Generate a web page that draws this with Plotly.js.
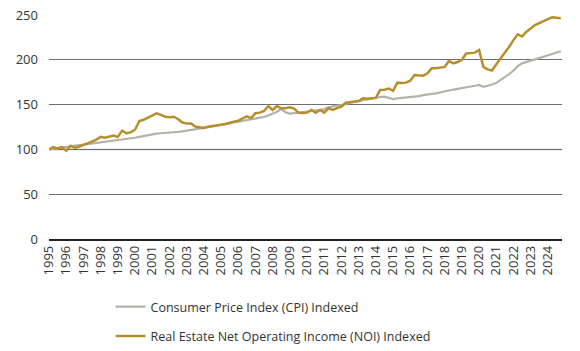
<!DOCTYPE html>
<html>
<head>
<meta charset="utf-8">
<script src="https://cdn.plot.ly/plotly-3.0.1.min.js"></script>
<style>html,body{margin:0;padding:0;background:#fff;}#chart{width:580px;height:351px;}</style>
</head>
<body>
<div id="chart"></div>
<script>
// Quarterly observations, 1995 Q1 .. 2024 Q4
const startYear = 1995;
const endYear = 2024;
const tickYears = [];
for (let y = startYear; y <= endYear; y++) tickYears.push(y);

const cpiIndexed = [
  100, 100.8, 101.5, 102.2,
  102.8, 103.6, 104.2, 104.9,
  105.3, 105.9, 106.4, 107,
  107.5, 108, 108.6, 109.2,
  109.8, 110.5, 111.4, 112.3,
  113, 114, 115, 116,
  116.8, 117.6, 118, 118.2,
  118.4, 118.8, 119.5, 120.2,
  121, 121.5, 122, 122.6,
  123.4, 124.3, 125.2, 126,
  126.8, 127.6, 128.8, 130,
  130.8, 131.8, 132.5, 133.2,
  134, 135.3, 136.3, 137.8,
  139.5, 142, 145, 141.5,
  140, 140.5, 141.5, 142,
  142.5, 143, 143.5, 144,
  145, 147, 148, 148.5,
  149.5, 151, 152, 152.8,
  153.5, 154.5, 155.5, 156.5,
  157.5, 158.5, 158.8, 157.5,
  156.2, 157, 157.5, 157.5,
  157.8, 158.8, 159.5, 160.5,
  161.5, 162, 162.6, 163.8,
  164.8, 166.3, 166.8, 167.5,
  168.2, 169.3, 170, 171,
  172, 169.8, 171, 172.5,
  174, 177.5, 180.5, 184,
  188, 193, 196, 197.5,
  199, 200.5, 202, 203.5,
  205, 206.5, 208, 209.5
];

const noiIndexed = [
  100, 102.5, 101, 102.5,
  98.5, 104, 102, 103,
  105, 106.5, 108.6, 111,
  114, 113, 114.5, 115.5,
  114, 121, 118, 119,
  122, 131.7, 133, 135.5,
  138, 140.3, 138.5, 136.5,
  136, 136.5, 134, 130,
  129, 129, 125.5, 124.5,
  124, 125.3, 126, 127,
  128, 128.5, 129.9, 131,
  132, 134.7, 137, 135,
  140.3, 141, 143, 148.4,
  144, 148.4, 145.9, 146,
  147, 145.5, 141, 140.5,
  141, 144, 141, 144,
  141, 145.9, 144, 146,
  147.7, 152, 152.5, 153.2,
  154, 157, 156.5, 157,
  157.5, 166.3, 166.7, 168,
  165.4, 174.5, 174, 174.5,
  176.7, 183, 182.5, 182.3,
  185, 190.5, 190.5, 191,
  192, 198.7, 196, 197.5,
  200, 207, 207.5, 208,
  211, 192, 189.3, 188,
  195, 201.7, 207, 214.6,
  222, 228.5, 226, 231.4,
  235, 238.8, 241, 243.6,
  245.5, 247.4, 247, 246.3
];

const seriesNames = [
  "Consumer Price Index (CPI) Indexed",
  "Real Estate Net Operating Income (NOI) Indexed"
];

const quarters = cpiIndexed.map((_, i) => startYear + i / 4);

const FONT = "'Open Sans', 'Noto Sans', sans-serif";

const traces = [
  {
    x: quarters, y: cpiIndexed, type: 'scatter', mode: 'lines',
    name: seriesNames[0], legendgroup: 'a',
    line: {color: '#b4b3ab', width: 2.2}
  },
  {
    x: quarters, y: noiIndexed, type: 'scatter', mode: 'lines',
    name: seriesNames[1], legendgroup: 'b',
    line: {color: '#b58f2c', width: 2.5}
  }
];

const layout = {
  width: 580, height: 351,
  margin: {l: 49, r: 18, t: 15, b: 112, autoexpand: false},
  paper_bgcolor: '#fff', plot_bgcolor: '#fff',
  font: {family: FONT, size: 13, color: '#333'},
  showlegend: true,
  legend: {
    orientation: 'v', x: 0.12, xanchor: 'left', y: -0.237, yanchor: 'top',
    font: {family: FONT, size: 12.5, color: '#333'},
    tracegroupgap: 10, bgcolor: 'rgba(0,0,0,0)'
  },
  xaxis: {
    type: 'linear', range: [startYear, endYear + 0.82], automargin: false,
    tickmode: 'array', tickvals: tickYears, ticktext: tickYears.map(String),
    tickangle: -90, showgrid: false, zeroline: false,
    showline: true, linecolor: '#222', linewidth: 1.5,
    ticks: '', tickfont: {family: FONT, size: 13, color: '#333'}
  },
  yaxis: {
    range: [0, 250], tickvals: [0, 50, 100, 150, 200, 250], automargin: false,
    showgrid: true, gridcolor: '#6e6e6e', gridwidth: 1,
    zeroline: false, showline: false, ticks: '',
    ticklabelstandoff: 10,
    tickfont: {family: FONT, size: 13, color: '#333'}
  },
  shapes: [
    {type: 'line', xref: 'paper', x0: 0, x1: 1, yref: 'y', y0: 100, y1: 100,
     line: {color: '#b9b9b9', width: 1.5}, layer: 'below'}
  ]
};

Plotly.newPlot('chart', traces, layout, {displayModeBar: false, staticPlot: true});
</script>
</body>
</html>
